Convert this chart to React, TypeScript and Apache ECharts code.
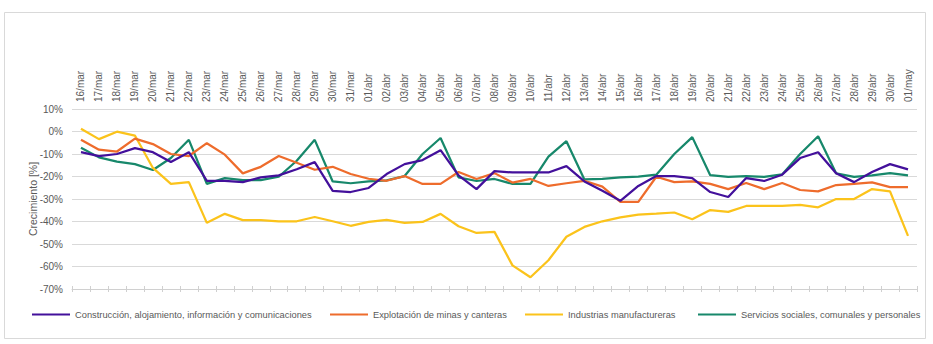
import React, { useEffect, useRef } from "react";
import * as echarts from "echarts";

const categories = [
  "16/mar", "17/mar", "18/mar", "19/mar", "20/mar", "21/mar", "22/mar", "23/mar", "24/mar", "25/mar",
  "26/mar", "27/mar", "28/mar", "29/mar", "30/mar", "31/mar", "01/abr", "02/abr", "03/abr", "04/abr",
  "05/abr", "06/abr", "07/abr", "08/abr", "09/abr", "10/abr", "11/abr", "12/abr", "13/abr", "14/abr",
  "15/abr", "16/abr", "17/abr", "18/abr", "19/abr", "20/abr", "21/abr", "22/abr", "23/abr", "24/abr",
  "25/abr", "26/abr", "27/abr", "28/abr", "29/abr", "30/abr", "01/may",
];

const construccion = [
  -9.2, -10.9, -10, -7.4, -9.2, -13.6, -9.2, -21.9, -21.9, -22.5, -20.4, -19.5, -16.8, -13.6,
  -26.4, -26.9, -25.1, -18.9, -14.5, -12.7, -8.3, -19.5, -25.6, -17.6, -18.2, -18.2, -18.2, -15.4, -22.2, -26.3, -30.8,
  -24.2, -19.8, -19.8, -20.7, -26.9, -29.1, -20.7, -22, -19.2, -11.8, -9.2, -18.6, -22.5, -18, -14.5, -16.8,
];

const explotacion = [
  -3.7, -8.1, -8.9, -3.2, -5.6, -10, -10.9, -5.2, -10.3, -18.6, -15.7, -10.9, -13.9, -17,
  -15.7, -18.9, -21, -21.9, -19.8, -23.3, -23.3, -18, -21.1, -18.5, -22.7, -21.1, -24.2, -23, -21.9, -24.5, -31.3,
  -31.3, -20.1, -22.5, -22.2, -23.3, -25.6, -22.9, -25.6, -22.9, -26, -26.6, -23.8, -23.3, -22.6, -24.7, -24.7,
];

const industrias = [
  1.2, -3.4, -0.1, -1.8, -16.2, -23.3, -22.5, -40.6, -36.6, -39.4, -39.4, -39.9, -39.9, -38,
  -39.9, -41.9, -40.2, -39.3, -40.6, -40.2, -36.6, -42.1, -45.1, -44.6, -59.5, -64.8, -57.2, -46.8, -42.4, -39.9, -38.2,
  -36.9, -36.5, -36, -39, -34.9, -35.7, -33.1, -33.1, -33.1, -32.6, -33.7, -30, -30, -25.6, -26.6, -46.4,
];

const servicios = [
  -7.2, -11.5, -13.4, -14.5, -17.1, -11.8, -3.7, -23.3, -20.7, -21.6, -21.6, -20.1, -13, -3.7,
  -22.2, -23, -22.2, -21.7, -19.8, -10, -2.9, -20.4, -22, -21.1, -23.3, -23.3, -11.2, -4.3, -21.3, -21.1, -20.4,
  -20.1, -19.2, -10, -2.5, -19.4, -20.2, -19.8, -20.2, -19.1, -10, -2.1, -18.6, -20.2, -19.5, -18.5, -19.5,
];

const seriesNames = [
  "Construcción, alojamiento, información y comunicaciones",
  "Explotación de minas y canteras",
  "Industrias manufactureras",
  "Servicios sociales, comunales y personales",
];
const seriesData = [construccion, explotacion, industrias, servicios];
const seriesColors = ["#43109b", "#ee6c2c", "#fbc31b", "#17886b"];
const legendLefts = [32, 330, 525, 698];

const FONT = "'Liberation Sans', Arial, sans-serif";
const TEXT_COLOR = "#595959";

export default function App() {
  const ref = useRef<HTMLDivElement>(null);

  useEffect(() => {
    if (!ref.current) return;
    const chart = echarts.init(ref.current, null, { renderer: "svg" });
    chart.setOption({
      animation: false,
      backgroundColor: "#ffffff",
      textStyle: { fontFamily: FONT },
      graphic: [
        {
          type: "rect",
          shape: { x: 4.5, y: 12.5, width: 921, height: 326 },
          style: { fill: "none", stroke: "#d9d9d9", lineWidth: 1 },
          silent: true,
        },
      ],
      legend: seriesNames.map((n, i) => ({
        data: [n],
        left: legendLefts[i],
        top: 310,
        icon: "rect",
        itemWidth: 38,
        itemHeight: 2,
        itemGap: 0,
        padding: 0,
        textStyle: { fontFamily: FONT, fontSize: 9.3, color: TEXT_COLOR },
      })),
      grid: { left: 72, right: 16, top: 109, bottom: 55, containLabel: false },
      xAxis: [
        {
          type: "category",
          data: categories,
          position: "top",
          boundaryGap: true,
          axisLine: { show: false },
          axisTick: { show: false },
          axisLabel: {
            rotate: 90,
            fontSize: 10,
            color: TEXT_COLOR,
            fontFamily: FONT,
            margin: 7,
            interval: 0,
          },
          splitLine: { show: false },
        },
        {
          type: "category",
          data: categories,
          position: "bottom",
          boundaryGap: true,
          axisLine: { show: true, onZero: true, lineStyle: { color: "#d0d0d0", width: 1 } },
          axisTick: { show: true, length: 3, inside: false, interval: 0, lineStyle: { color: "#d0d0d0" } },
          axisLabel: { show: false },
          splitLine: { show: false },
        },
        {
          type: "category",
          data: categories,
          position: "bottom",
          boundaryGap: true,
          axisLine: { show: false, onZero: true },
          axisTick: { show: true, length: 3, inside: true, interval: 0, lineStyle: { color: "#d0d0d0" } },
          axisLabel: { show: false },
          splitLine: { show: false },
        },
      ],
      yAxis: {
        type: "value",
        min: -70,
        max: 10,
        interval: 10,
        name: "Crecimiento [%]",
        nameLocation: "middle",
        nameGap: 34,
        nameMoveOverlap: false,
        nameTextStyle: { fontFamily: FONT, fontSize: 10.5, color: TEXT_COLOR },
        axisLine: { show: false },
        axisTick: { show: false },
        axisLabel: {
          formatter: "{value}%",
          fontSize: 10,
          color: TEXT_COLOR,
          fontFamily: FONT,
          margin: 9,
        },
        splitLine: { show: true, lineStyle: { color: "#d9d9d9", width: 1 } },
      },
      series: seriesNames.map((n, i) => ({
        name: n,
        type: "line",
        data: seriesData[i],
        xAxisIndex: 0,
        symbol: "none",
        showSymbol: false,
        lineStyle: { color: seriesColors[i], width: 2.25 },
        itemStyle: { color: seriesColors[i] },
        z: 3 + (3 - i),
      })),
    });
    return () => chart.dispose();
  }, []);

  return (
    <div
      ref={ref}
      style={{ position: "fixed", left: 0, top: 0, width: 933, height: 344, background: "#fff" }}
    />
  );
}
